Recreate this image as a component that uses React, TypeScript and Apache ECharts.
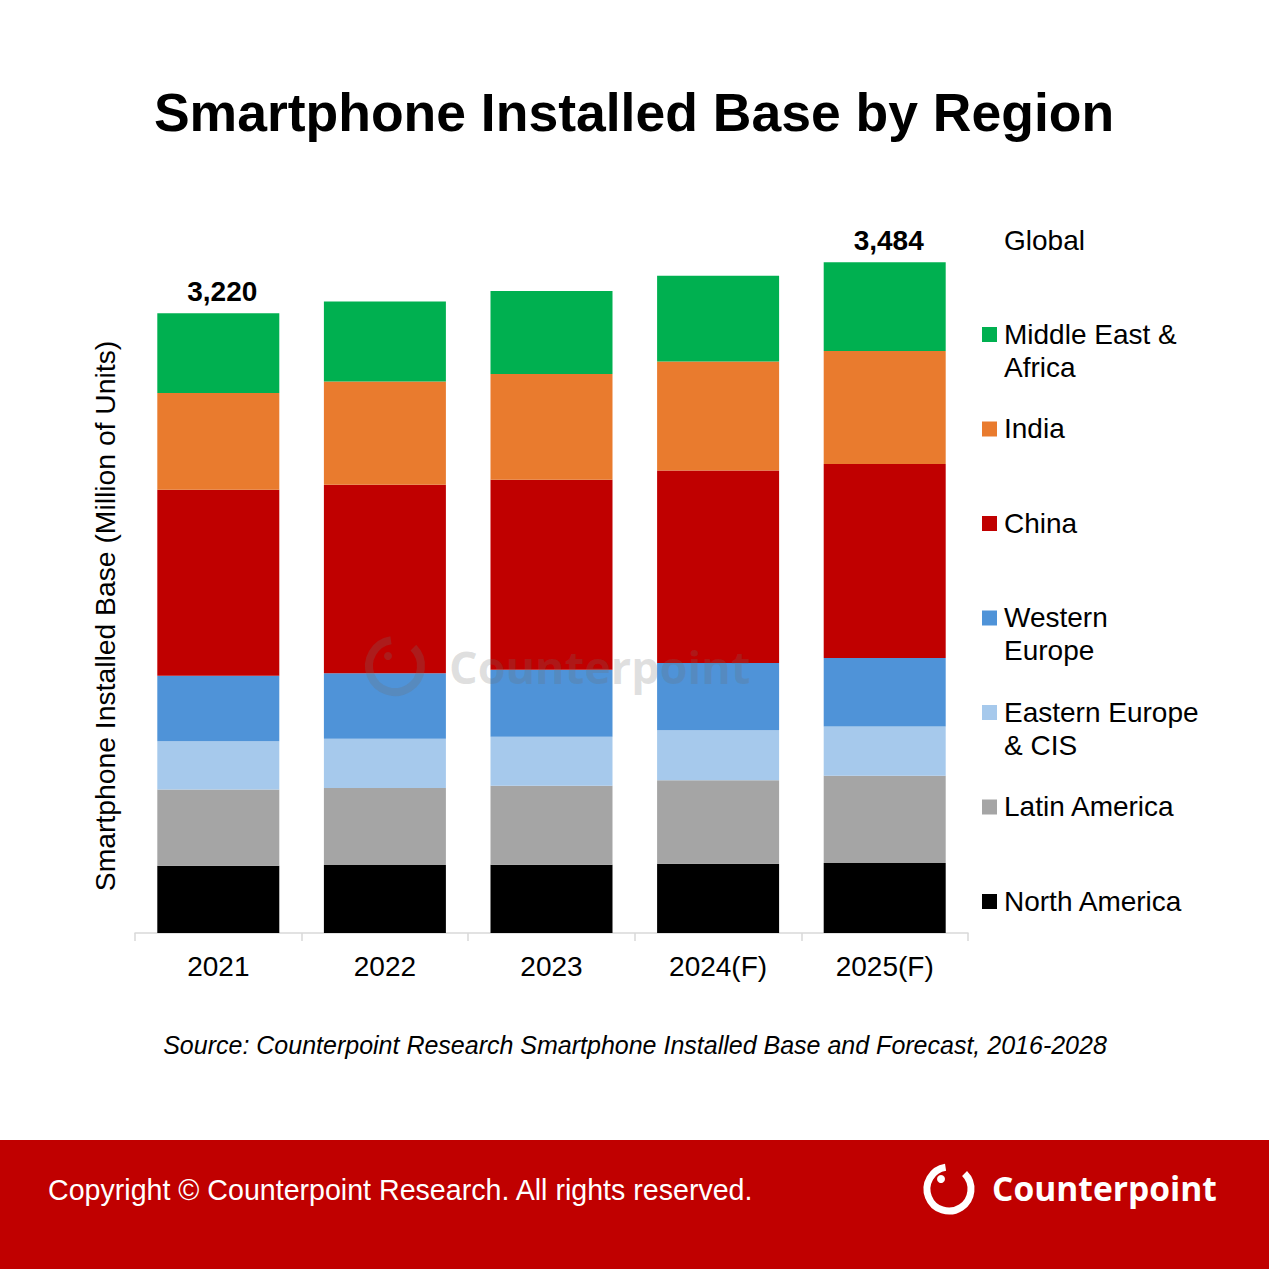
import React, { useEffect, useRef } from "react";
import * as echarts from "echarts";

const categories = ["2021", "2022", "2023", "2024(F)", "2025(F)"];
const northAmerica = [350, 353, 355, 360, 364];
const latinAmerica = [395, 400, 410, 433, 453];
const easternEurope = [251, 256, 254, 260, 256];
const westernEurope = [341, 341, 348, 350, 355];
const china = [966, 978, 987, 1000, 1009];
const india = [502, 537, 550, 566, 587];
const middleEastAfrica = [415, 415, 431, 445, 460];

const seriesNames = [
  "North America",
  "Latin America",
  "Eastern Europe & CIS",
  "Western Europe",
  "China",
  "India",
  "Middle East & Africa",
];
const legendLabels = [
  "North America",
  "Latin America",
  "Eastern Europe\n& CIS",
  "Western\nEurope",
  "China",
  "India",
  "Middle East &\nAfrica",
];
const seriesColors = ["#000000", "#A5A5A5", "#A6C9EC", "#4F93D8", "#C00000", "#E97B2E", "#00B050"];
const seriesData = [northAmerica, latinAmerica, easternEurope, westernEurope, china, india, middleEastAfrica];
const labelledBars = [0, 4];

const titleText = "Smartphone Installed Base by Region";
const yAxisName = "Smartphone Installed Base (Million of Units)";
const sourceText = "Source: Counterpoint Research Smartphone Installed Base and Forecast, 2016-2028";
const copyrightText = "Copyright \u00A9 Counterpoint Research. All rights reserved.";
const brandText = "Counterpoint";
const globalText = "Global";

const FONT = "'Liberation Sans', Arial, Helvetica, sans-serif";
const BRAND_FONT = "'Open Sans', 'Noto Sans', sans-serif";

export default function App() {
  const ref = useRef<HTMLDivElement>(null);

  useEffect(() => {
    document.body.style.margin = "0";
    if (!ref.current) return;
    const chart = echarts.init(ref.current, undefined, { renderer: "svg" });

    const totals = categories.map((_, i) => seriesData.reduce((s, arr) => s + arr[i], 0));

    const series = seriesNames.map((name, si) => ({
      name,
      type: "bar",
      stack: "total",
      barWidth: 122,
      data: seriesData[si],
      itemStyle: { color: seriesColors[si] },
      label:
        si === seriesNames.length - 1
          ? {
              show: true,
              position: "top",
              distance: 8,
              offset: [4, 0],
              color: "#000",
              fontSize: 28,
              fontWeight: "bold",
              fontFamily: FONT,
              formatter: (p: any) =>
                labelledBars.includes(p.dataIndex) ? totals[p.dataIndex].toLocaleString("en-US") : "",
            }
          : { show: false },
    }));

    const legendGraphics: any[] = [];
    const order = seriesNames.map((_, i) => seriesNames.length - 1 - i);
    order.forEach((si, k) => {
      const cy = 334 + k * 94.5;
      legendGraphics.push({
        type: "rect",
        shape: { x: 982, y: cy - 7, width: 15, height: 15 },
        style: { fill: seriesColors[si] },
      });
      legendGraphics.push({
        type: "text",
        x: 1004,
        y: cy - 16.5,
        style: {
          text: legendLabels[si],
          fill: "#000",
          fontSize: 28,
          fontFamily: FONT,
          lineHeight: 33,
          align: "left",
          verticalAlign: "top",
        },
      });
    });

    const option: any = {
      animation: false,
      backgroundColor: "#ffffff",
      grid: { left: 135, right: 301, top: 163, bottom: 336 },
      xAxis: {
        type: "category",
        data: categories,
        axisLine: { lineStyle: { color: "#D9D9D9", width: 1.5 } },
        axisTick: { show: true, length: 8, lineStyle: { color: "#D9D9D9", width: 1.5 } },
        axisLabel: { color: "#000", fontSize: 28, fontFamily: FONT, margin: 19 },
      },
      yAxis: { type: "value", min: 0, max: 4000, show: false },
      series,
      graphic: [
        {
          type: "text",
          x: 634,
          y: 112,
          style: {
            text: titleText,
            fill: "#000",
            fontSize: 53.5,
            fontWeight: "bold",
            fontFamily: FONT,
            align: "center",
            verticalAlign: "middle",
          },
        },
        {
          type: "text",
          x: 105,
          y: 616,
          rotation: Math.PI / 2,
          style: {
            text: yAxisName,
            fill: "#000",
            fontSize: 28.3,
            fontFamily: FONT,
            align: "center",
            verticalAlign: "middle",
          },
        },
        {
          type: "text",
          x: 1004,
          y: 240,
          style: {
            text: globalText,
            fill: "#000",
            fontSize: 28,
            fontFamily: FONT,
            align: "left",
            verticalAlign: "middle",
          },
        },
        ...legendGraphics,
        {
          type: "text",
          x: 635,
          y: 1045,
          style: {
            text: sourceText,
            fill: "#000",
            fontSize: 25,
            fontStyle: "italic",
            fontFamily: FONT,
            align: "center",
            verticalAlign: "middle",
          },
        },
        // watermark
        {
          type: "group",
          z: 100,
          children: [
            {
              type: "arc",
              z: 100,
              shape: { cx: 395, cy: 666, r: 26, startAngle: -Math.PI / 4, endAngle: Math.PI * 1.45, clockwise: true },
              style: { stroke: "rgba(110,110,110,0.25)", lineWidth: 8, fill: null },
            },
            {
              type: "circle",
              z: 100,
              shape: { cx: 388, cy: 656, r: 4 },
              style: { fill: "rgba(110,110,110,0.25)" },
            },
            {
              type: "text",
              z: 100,
              x: 449,
              y: 666,
              style: {
                text: brandText,
                fill: "rgba(110,110,110,0.22)",
                fontSize: 45,
                fontWeight: "bold",
                fontFamily: BRAND_FONT,
                align: "left",
                verticalAlign: "middle",
              },
            },
          ],
        },
        // footer
        {
          type: "rect",
          shape: { x: 0, y: 1140, width: 1269, height: 129 },
          style: { fill: "#C00000" },
        },
        {
          type: "text",
          x: 48,
          y: 1190,
          style: {
            text: copyrightText,
            fill: "#ffffff",
            fontSize: 28.6,
            fontFamily: FONT,
            align: "left",
            verticalAlign: "middle",
          },
        },
        {
          type: "arc",
          shape: { cx: 949, cy: 1189, r: 22, startAngle: -Math.PI / 4, endAngle: Math.PI * 1.45, clockwise: true },
          style: { stroke: "#ffffff", lineWidth: 7, fill: null },
        },
        {
          type: "circle",
          shape: { cx: 941, cy: 1179, r: 4 },
          style: { fill: "#ffffff" },
        },
        {
          type: "text",
          x: 992,
          y: 1188,
          style: {
            text: brandText,
            fill: "#ffffff",
            fontSize: 33.6,
            fontWeight: "bold",
            fontFamily: BRAND_FONT,
            align: "left",
            verticalAlign: "middle",
          },
        },
      ],
    };

    chart.setOption(option);
    return () => chart.dispose();
  }, []);

  return <div ref={ref} style={{ width: 1269, height: 1269 }} />;
}
